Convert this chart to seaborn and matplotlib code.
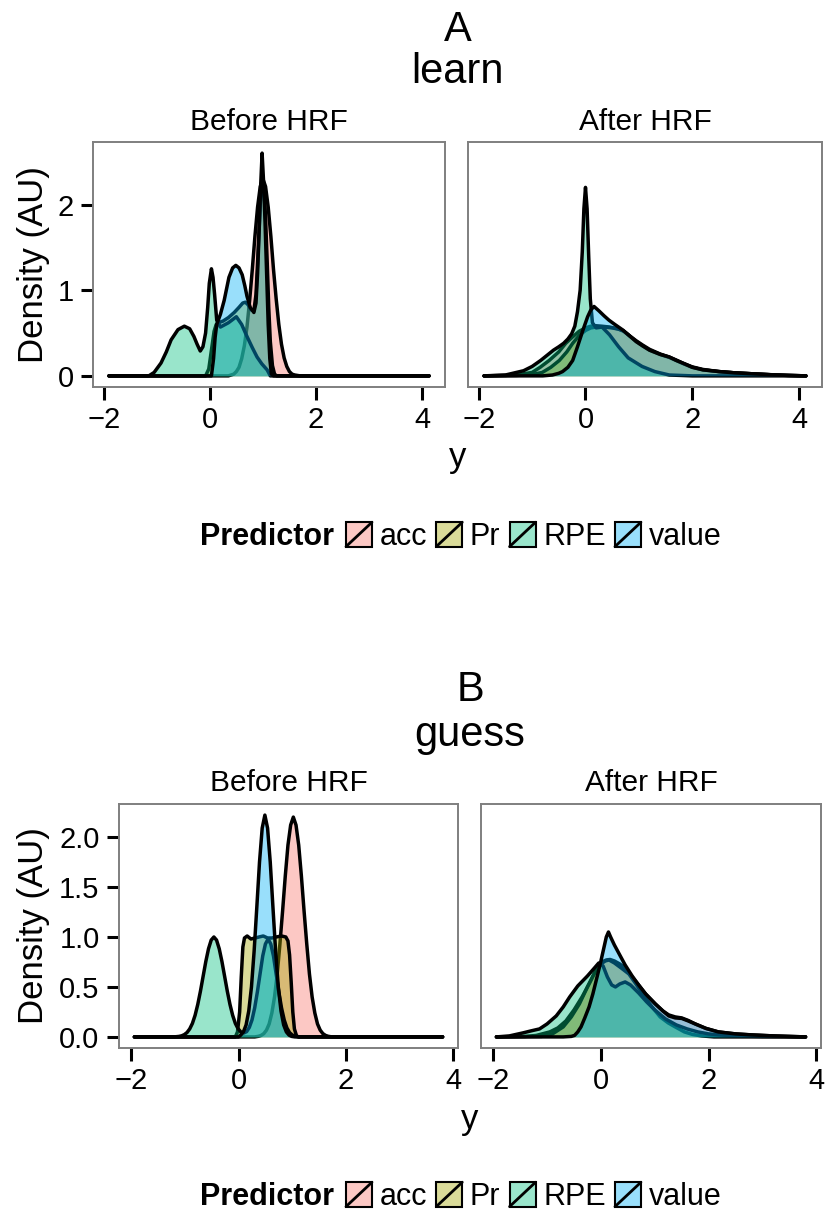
import matplotlib
matplotlib.use("Agg")
import matplotlib.pyplot as plt
import seaborn as sns
import pandas as pd
from matplotlib.patches import Rectangle, Patch
from matplotlib.lines import Line2D
from matplotlib.legend_handler import HandlerBase

# ---------------- data ----------------
PREDICTORS = ["acc", "Pr", "RPE", "value"]
COLORS = ["#F8766D", "#A3A500", "#00BF7D", "#00B0F6"]
FACETS = ["Before HRF", "After HRF"]
PANEL_LETTERS = ["A", "B"]
TASKS = ["learn", "guess"]
XTICKS = [-2, 0, 2, 4]
YTICKS_LEARN = [0, 1, 2]
YTICKS_GUESS = [0.0, 0.5, 1.0, 1.5, 2.0]
YTICK_LABELS_LEARN = ["0", "1", "2"]
YTICK_LABELS_GUESS = ["0.0", "0.5", "1.0", "1.5", "2.0"]

# density curves as (y, density) pairs
LEARN_BEFORE_ACC = [(-1.9, 0), (0.35, 0), (0.4, 0.01), (0.45, 0.02), (0.5, 0.05), (0.55, 0.1), (0.6, 0.2),
                    (0.65, 0.35), (0.7, 0.57), (0.75, 0.88), (0.8, 1.24), (0.85, 1.63), (0.9, 1.97),
                    (0.95, 2.21), (1.0, 2.3), (1.05, 2.21), (1.1, 1.97), (1.15, 1.63), (1.2, 1.24),
                    (1.25, 0.9), (1.3, 0.6), (1.35, 0.37), (1.4, 0.21), (1.45, 0.11), (1.5, 0.05),
                    (1.55, 0.02), (1.6, 0.01), (1.7, 0), (4.13, 0)]
LEARN_BEFORE_PR = [(-1.9, 0), (-0.08, 0), (-0.02, 0.08), (0.03, 0.3), (0.08, 0.52), (0.12, 0.6),
                   (0.16, 0.62), (0.25, 0.64), (0.35, 0.68), (0.46, 0.74), (0.55, 0.8), (0.62, 0.85),
                   (0.67, 0.86), (0.72, 0.83), (0.78, 0.77), (0.83, 0.76), (0.87, 0.95), (0.91, 1.45),
                   (0.95, 2.0), (0.98, 2.25), (1.0, 2.3), (1.02, 2.2), (1.05, 1.85), (1.08, 1.35),
                   (1.11, 0.8), (1.14, 0.4), (1.18, 0.12), (1.22, 0.02), (1.26, 0), (4.13, 0)]
LEARN_BEFORE_RPE = [(-1.9, 0), (-1.15, 0), (-1.05, 0.04), (-0.92, 0.15), (-0.82, 0.28), (-0.73, 0.42),
                    (-0.6, 0.54), (-0.48, 0.58), (-0.38, 0.55), (-0.3, 0.46), (-0.24, 0.37),
                    (-0.18, 0.29), (-0.13, 0.34), (-0.08, 0.5), (-0.04, 0.8), (-0.01, 1.08),
                    (0.03, 1.25), (0.06, 1.15), (0.09, 0.95), (0.13, 0.65), (0.2, 0.57), (0.35, 0.62),
                    (0.5, 0.69), (0.6, 0.6), (0.7, 0.46), (0.8, 0.33), (0.89, 0.22), (0.98, 0.14),
                    (1.08, 0.07), (1.14, 0), (4.13, 0)]
LEARN_BEFORE_VALUE = [(-1.9, 0), (0.03, 0), (0.07, 0.2), (0.1, 0.45), (0.13, 0.6), (0.2, 0.72),
                      (0.27, 0.88), (0.36, 1.15), (0.43, 1.26), (0.49, 1.29), (0.55, 1.26),
                      (0.61, 1.18), (0.66, 1.05), (0.7, 0.93), (0.76, 0.8), (0.83, 0.74), (0.87, 0.85),
                      (0.9, 1.2), (0.93, 1.7), (0.96, 2.25), (0.985, 2.6), (1.01, 2.3), (1.04, 1.8),
                      (1.07, 1.2), (1.1, 0.6), (1.13, 0.2), (1.16, 0.02), (1.2, 0), (4.13, 0)]

LEARN_AFTER_ACC = [(-1.9, 0), (-1.5, 0.005), (-1.2, 0.02), (-1.0, 0.04), (-0.85, 0.1), (-0.68, 0.18),
                   (-0.5, 0.28), (-0.37, 0.38), (-0.25, 0.45), (-0.12, 0.52), (0.0, 0.56), (0.1, 0.58),
                   (0.2, 0.585), (0.3, 0.58), (0.45, 0.57), (0.6, 0.55), (0.7, 0.53), (0.82, 0.47),
                   (0.95, 0.4), (1.07, 0.35), (1.2, 0.3), (1.4, 0.25), (1.57, 0.215), (1.7, 0.18),
                   (1.82, 0.145), (2.0, 0.1), (2.2, 0.07), (2.5, 0.05), (2.8, 0.035), (3.1, 0.025),
                   (3.5, 0.012), (3.8, 0.005), (4.13, 0)]
LEARN_AFTER_PR = [(-1.9, 0), (-1.3, 0.005), (-1.0, 0.015), (-0.81, 0.04), (-0.65, 0.1), (-0.49, 0.18),
                  (-0.35, 0.28), (-0.24, 0.38), (-0.12, 0.47), (0.0, 0.53), (0.1, 0.56), (0.2, 0.57),
                  (0.35, 0.57), (0.5, 0.56), (0.62, 0.545), (0.72, 0.52), (0.82, 0.47), (0.95, 0.41),
                  (1.07, 0.36), (1.2, 0.31), (1.4, 0.255), (1.57, 0.22), (1.7, 0.185), (1.82, 0.15),
                  (2.0, 0.105), (2.2, 0.075), (2.5, 0.05), (2.8, 0.035), (3.1, 0.025), (3.5, 0.013),
                  (3.8, 0.006), (4.13, 0)]
LEARN_AFTER_RPE = [(-1.9, 0), (-1.5, 0.01), (-1.16, 0.06), (-1.0, 0.11), (-0.84, 0.18), (-0.72, 0.24),
                   (-0.6, 0.3), (-0.5, 0.34), (-0.41, 0.38), (-0.33, 0.43), (-0.26, 0.49), (-0.2, 0.58),
                   (-0.15, 0.75), (-0.1, 1.0), (-0.06, 1.45), (-0.03, 1.95), (0.0, 2.2), (0.03, 1.95),
                   (0.06, 1.4), (0.09, 0.9), (0.13, 0.62), (0.2, 0.56), (0.31, 0.57), (0.45, 0.48),
                   (0.62, 0.34), (0.8, 0.21), (1.06, 0.11), (1.3, 0.05), (1.57, 0.01), (2.0, 0),
                   (4.13, 0)]
LEARN_AFTER_VALUE = [(-1.9, 0), (-0.8, 0), (-0.62, 0.01), (-0.5, 0.03), (-0.43, 0.05), (-0.33, 0.1),
                     (-0.24, 0.18), (-0.15, 0.34), (-0.05, 0.53), (0.04, 0.69), (0.1, 0.77), (0.16, 0.81),
                     (0.25, 0.76), (0.35, 0.7), (0.44, 0.65), (0.55, 0.6), (0.7, 0.535), (0.82, 0.47),
                     (0.95, 0.4), (1.07, 0.35), (1.2, 0.3), (1.4, 0.25), (1.57, 0.22), (1.7, 0.18),
                     (1.82, 0.15), (2.0, 0.1), (2.2, 0.07), (2.5, 0.05), (2.8, 0.035), (3.1, 0.025),
                     (3.5, 0.012), (3.8, 0.005), (4.13, 0)]

GUESS_BEFORE_ACC = [(-1.94, 0), (0.3, 0), (0.37, 0.006), (0.42, 0.015), (0.47, 0.033), (0.52, 0.068),
                    (0.57, 0.13), (0.62, 0.24), (0.67, 0.4), (0.72, 0.63), (0.77, 0.93), (0.82, 1.26),
                    (0.87, 1.61), (0.92, 1.92), (0.97, 2.12), (1.02, 2.2), (1.07, 2.12), (1.12, 1.92),
                    (1.17, 1.61), (1.22, 1.26), (1.27, 0.93), (1.32, 0.63), (1.37, 0.4), (1.42, 0.24),
                    (1.47, 0.13), (1.52, 0.068), (1.57, 0.033), (1.62, 0.015), (1.67, 0.006),
                    (1.74, 0), (3.8, 0)]
GUESS_BEFORE_PR = [(-1.94, 0), (-0.06, 0), (-0.02, 0.05), (0.02, 0.25), (0.05, 0.6), (0.08, 0.9),
                   (0.11, 0.99), (0.16, 1.01), (0.23, 0.98), (0.31, 0.99), (0.38, 1.0), (0.46, 1.01),
                   (0.54, 0.99), (0.62, 0.99), (0.7, 1.0), (0.8, 1.01), (0.88, 1.0), (0.92, 0.96),
                   (0.95, 0.82), (0.98, 0.55), (1.01, 0.25), (1.04, 0.08), (1.08, 0.01), (1.12, 0),
                   (3.8, 0)]
GUESS_BEFORE_RPE = [(-1.94, 0), (-1.2, 0), (-1.11, 0.005), (-1.06, 0.011), (-1.01, 0.023), (-0.96, 0.044),
                    (-0.91, 0.08), (-0.86, 0.135), (-0.81, 0.216), (-0.76, 0.325), (-0.71, 0.458),
                    (-0.66, 0.607), (-0.61, 0.755), (-0.56, 0.882), (-0.51, 0.969), (-0.46, 1.0),
                    (-0.41, 0.969), (-0.36, 0.882), (-0.31, 0.755), (-0.26, 0.607), (-0.21, 0.458),
                    (-0.16, 0.325), (-0.11, 0.216), (-0.06, 0.135), (-0.01, 0.083), (0.04, 0.051),
                    (0.1, 0.04), (0.15, 0.053), (0.2, 0.095), (0.25, 0.17), (0.3, 0.29), (0.35, 0.45),
                    (0.4, 0.63), (0.45, 0.81), (0.5, 0.93), (0.55, 0.98), (0.6, 0.93), (0.65, 0.81),
                    (0.7, 0.63), (0.75, 0.45), (0.8, 0.29), (0.85, 0.17), (0.9, 0.09), (0.95, 0.043),
                    (1.0, 0.019), (1.05, 0.008), (1.12, 0), (3.8, 0)]
GUESS_BEFORE_VALUE = [(-1.94, 0), (0.0, 0), (0.04, 0.018), (0.09, 0.05), (0.14, 0.12), (0.19, 0.26),
                      (0.24, 0.5), (0.29, 0.86), (0.34, 1.3), (0.39, 1.75), (0.44, 2.09), (0.49, 2.22),
                      (0.54, 2.09), (0.59, 1.75), (0.64, 1.3), (0.69, 0.86), (0.74, 0.5), (0.79, 0.26),
                      (0.84, 0.12), (0.89, 0.05), (0.94, 0.018), (0.99, 0.005), (1.05, 0), (3.8, 0)]

GUESS_AFTER_ACC = [(-1.94, 0), (-1.4, 0.005), (-1.2, 0.015), (-0.95, 0.05), (-0.8, 0.09), (-0.65, 0.16),
                   (-0.5, 0.27), (-0.35, 0.4), (-0.2, 0.55), (-0.08, 0.68), (0.02, 0.75), (0.1, 0.77),
                   (0.17, 0.775), (0.25, 0.76), (0.35, 0.73), (0.45, 0.69), (0.58, 0.6), (0.7, 0.52),
                   (0.83, 0.43), (1.01, 0.33), (1.15, 0.26), (1.26, 0.22), (1.38, 0.2), (1.5, 0.19),
                   (1.62, 0.165), (1.75, 0.13), (1.95, 0.085), (2.18, 0.05), (2.5, 0.03), (2.8, 0.02),
                   (3.2, 0.01), (3.8, 0)]
GUESS_AFTER_PR = [(-1.94, 0), (-1.1, 0.005), (-0.9, 0.03), (-0.7, 0.1), (-0.55, 0.2), (-0.4, 0.33),
                  (-0.25, 0.5), (-0.1, 0.66), (0.0, 0.73), (0.08, 0.76), (0.15, 0.77), (0.25, 0.74),
                  (0.4, 0.68), (0.52, 0.63), (0.65, 0.53), (0.8, 0.41), (0.95, 0.3), (1.1, 0.2),
                  (1.25, 0.14), (1.38, 0.1), (1.55, 0.05), (1.7, 0.025), (1.87, 0.01), (2.1, 0),
                  (3.8, 0)]
GUESS_AFTER_RPE = [(-1.94, 0), (-1.7, 0.01), (-1.45, 0.04), (-1.3, 0.06), (-1.14, 0.08), (-1.0, 0.13),
                   (-0.83, 0.21), (-0.7, 0.3), (-0.58, 0.4), (-0.43, 0.51), (-0.25, 0.61), (-0.12, 0.69),
                   (-0.04, 0.74), (0.04, 0.71), (0.12, 0.6), (0.2, 0.52), (0.27, 0.5), (0.35, 0.53),
                   (0.45, 0.55), (0.55, 0.52), (0.7, 0.44), (0.85, 0.35), (1.0, 0.27), (1.2, 0.18),
                   (1.4, 0.12), (1.6, 0.08), (1.8, 0.05), (2.0, 0.03), (2.4, 0.012), (3.0, 0.004),
                   (3.8, 0)]
GUESS_AFTER_VALUE = [(-1.94, 0), (-0.7, 0), (-0.55, 0.005), (-0.49, 0.015), (-0.43, 0.05), (-0.37, 0.1),
                     (-0.3, 0.19), (-0.22, 0.3), (-0.15, 0.43), (-0.09, 0.56), (-0.04, 0.67), (0.0, 0.76),
                     (0.05, 0.88), (0.1, 1.0), (0.14, 1.05), (0.18, 1.0), (0.25, 0.92), (0.34, 0.83),
                     (0.45, 0.72), (0.58, 0.61), (0.7, 0.52), (0.83, 0.43), (1.01, 0.33), (1.15, 0.26),
                     (1.26, 0.21), (1.38, 0.19), (1.5, 0.185), (1.62, 0.16), (1.75, 0.13), (1.95, 0.085),
                     (2.18, 0.05), (2.5, 0.03), (2.8, 0.02), (3.2, 0.01), (3.8, 0)]

CURVES = {
    ("learn", "Before HRF"): [LEARN_BEFORE_ACC, LEARN_BEFORE_PR, LEARN_BEFORE_RPE, LEARN_BEFORE_VALUE],
    ("learn", "After HRF"): [LEARN_AFTER_ACC, LEARN_AFTER_PR, LEARN_AFTER_RPE, LEARN_AFTER_VALUE],
    ("guess", "Before HRF"): [GUESS_BEFORE_ACC, GUESS_BEFORE_PR, GUESS_BEFORE_RPE, GUESS_BEFORE_VALUE],
    ("guess", "After HRF"): [GUESS_AFTER_ACC, GUESS_AFTER_PR, GUESS_AFTER_RPE, GUESS_AFTER_VALUE],
}

# ---------------- style ----------------
sns.set_theme(style="ticks")
plt.rcParams["font.family"] = ["Liberation Sans", "DejaVu Sans"]
plt.rcParams["axes.unicode_minus"] = True
for key in ["text.color", "axes.labelcolor", "xtick.color", "ytick.color",
            "xtick.labelcolor", "ytick.labelcolor", "legend.labelcolor"]:
    plt.rcParams[key] = "black"

W, H = 827, 1216
fig = plt.figure(figsize=(W / 100, H / 100), dpi=100)


def px_axes(left, top, right, bottom):
    return fig.add_axes([left / W, 1 - bottom / H, (right - left) / W, (bottom - top) / H])


def ftext(x, y, s, **kw):
    fig.text(x / W, 1 - y / H, s, color="black", **kw)


class DiagKey(HandlerBase):
    def create_artists(self, legend, orig_handle, xdescent, ydescent, width, height, fontsize, trans):
        x0, y0 = -xdescent, -ydescent
        rect = Rectangle((x0, y0), width, height, facecolor=orig_handle.get_facecolor(),
                         edgecolor="black", lw=1.5, transform=trans)
        line = Line2D([x0, x0 + width], [y0, y0 + height], color="black", lw=2.0, transform=trans)
        return [rect, line]


# layout (pixels) per row
ROWS = [
    dict(task="learn", letter="A", yticks=YTICKS_LEARN, ylabels=YTICK_LABELS_LEARN,
         boxes=[(93, 142, 445, 387), (468, 142, 822, 387)], strip_y=122,
         title_y=(30, 72), xlab_y=458, legend_y=537),
    dict(task="guess", letter="B", yticks=YTICKS_GUESS, ylabels=YTICK_LABELS_GUESS,
         boxes=[(119, 804, 458, 1048), (481, 804, 821, 1048)], strip_y=783,
         title_y=(690, 735), xlab_y=1120, legend_y=1197),
]

for row in ROWS:
    task = row["task"]
    allx = [p[0] for f in FACETS for c in CURVES[(task, f)] for p in c]
    ally = [p[1] for f in FACETS for c in CURVES[(task, f)] for p in c]
    xmin, xmax = min(allx), max(allx)
    ymax = max(ally)
    xpad = 0.05 * (xmax - xmin)
    ypad = 0.05 * ymax
    for j, facet in enumerate(FACETS):
        l, t, r, b = row["boxes"][j]
        ax = px_axes(l, t, r, b)
        for i, pred in enumerate(PREDICTORS):
            df = pd.DataFrame(CURVES[(task, facet)][i], columns=["y", "density"])
            ax.fill_between(df["y"], df["density"], 0, color=COLORS[i], alpha=0.4, lw=0, zorder=2 + 2 * i)
            sns.lineplot(data=df, x="y", y="density", ax=ax, color="black", lw=2.5,
                         estimator=None, sort=False, zorder=3 + 2 * i,
                         solid_joinstyle="round", solid_capstyle="round")
        ax.set_xlim(xmin - xpad, xmax + xpad)
        ax.set_ylim(-ypad, ymax + ypad)
        ax.set_xlabel("")
        ax.set_ylabel("")
        ax.set_xticks(XTICKS)
        ax.set_xticklabels([f"{v:d}".replace("-", "\u2212") for v in XTICKS])
        ax.set_yticks(row["yticks"])
        ax.set_yticklabels(row["ylabels"])
        for s in ax.spines.values():
            s.set_visible(True)
            s.set_color("#7f7f7f")
            s.set_linewidth(1.4)
        ax.tick_params(axis="both", direction="out", length=9, width=2.2, color="black",
                       labelsize=21, pad=5, labelcolor="black")
        if j == 1:
            ax.tick_params(axis="y", left=False, labelleft=False)
        ax.set_facecolor("white")
        ftext((l + r) / 2, row["strip_y"], facet, ha="center", va="center", fontsize=21.5)
    # titles
    left_edge = row["boxes"][0][0]
    right_edge = row["boxes"][1][2]
    cx = (left_edge + right_edge) / 2
    ftext(cx, row["title_y"][0], row["letter"], ha="center", va="center", fontsize=30)
    ftext(cx, row["title_y"][1], task, ha="center", va="center", fontsize=30)
    ftext(cx, row["xlab_y"], "y", ha="center", va="center", fontsize=25)
    top, bot = row["boxes"][0][1], row["boxes"][0][3]
    ftext(34, (top + bot) / 2, "Density (AU)", ha="center", va="center", rotation=90, fontsize=25)
    # legend
    ftext(200, row["legend_y"], "Predictor", ha="left", va="center", fontsize=22, fontweight="bold")
    handles = [Patch(facecolor=c, alpha=0.4) for c in COLORS]
    fig.legend(handles, PREDICTORS, loc="center left",
               bbox_to_anchor=(346 / W, 1 - row["legend_y"] / H), ncol=4, frameon=False,
               handlelength=0.85, handleheight=0.85, handletextpad=0.25, columnspacing=0.3,
               borderpad=0, borderaxespad=0, fontsize=22,
               handler_map={Patch: DiagKey()})

fig.savefig("out.png", dpi=100, facecolor="white")
